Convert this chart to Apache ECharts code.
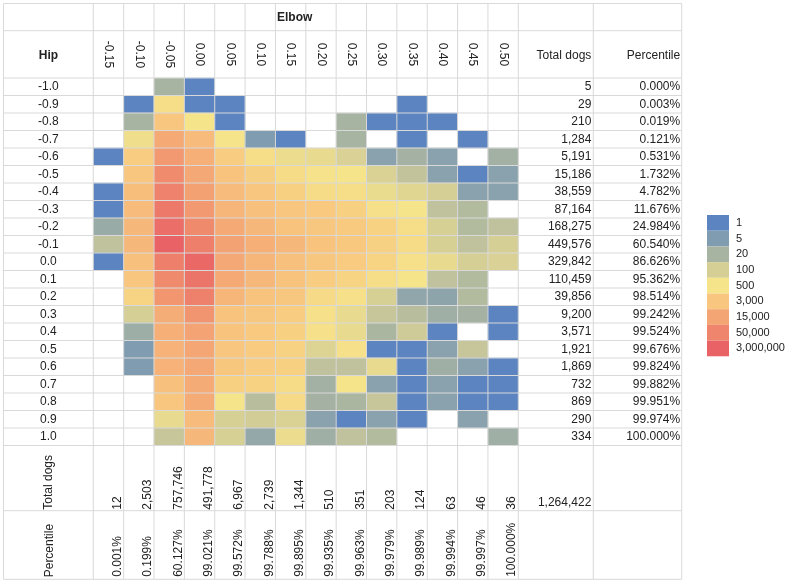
<!DOCTYPE html>
<html><head><meta charset="utf-8">
<script src="https://cdn.jsdelivr.net/npm/echarts@6/dist/echarts.min.js"></script>
<style>html,body{margin:0;padding:0;background:#fff}#c{width:789px;height:584px}</style>
</head><body><div id="c"></div>
<script>
// ---------- data ----------
const elbowLabels = ['-0.15','-0.10','-0.05','0.00','0.05','0.10','0.15','0.20','0.25','0.30','0.35','0.40','0.45','0.50'];
const hipLabels = ['-1.0','-0.9','-0.8','-0.7','-0.6','-0.5','-0.4','-0.3','-0.2','-0.1','0.0','0.1','0.2','0.3','0.4','0.5','0.6','0.7','0.8','0.9','1.0'];
const rowTotals = [5,29,210,1284,5191,15186,38559,87164,168275,449576,329842,110459,39856,9200,3571,1921,1869,732,869,290,334];
const rowPercentiles = ['0.000%','0.003%','0.019%','0.121%','0.531%','1.732%','4.782%','11.676%','24.984%','60.540%','86.626%','95.362%','98.514%','99.242%','99.524%','99.676%','99.824%','99.882%','99.951%','99.974%','100.000%'];
const colTotals = [12,2503,757746,491778,6967,2739,1344,510,351,203,124,63,46,36];
const colPercentiles = ['0.001%','0.199%','60.127%','99.021%','99.572%','99.788%','99.895%','99.935%','99.963%','99.979%','99.989%','99.994%','99.997%','100.000%'];
const grandTotal = 1264422;
const legendLabels = ['1','5','20','100','500','3,000','15,000','50,000','3,000,000'];
const legendThresholds = [1,5,20,100,500,3000,15000,50000,3000000];
const legendColors = ['#5B84C1','#7F9CB0','#A8B4A2','#D5CF96','#F6E48B','#F8C67E','#F4A574','#EF856C','#E96366'];
// estimated counts per cell (rows = hip, cols = elbow), null = empty
const cellCounts = [
 [null,null,20,1,null,null,null,null,null,null,null,null,null,null],
 [null,1,700,1,1,null,null,null,null,null,1,null,null,null],
 [null,20,3000,500,1,null,null,null,20,1,1,1,null,null],
 [null,350,12000,5000,500,5,1,null,20,null,1,null,1,null],
 [1,2000,24000,9000,2000,700,300,250,120,7,18,7,null,17],
 [null,3000,40000,13000,3500,1800,800,550,500,130,50,7,1,7],
 [1,4500,70000,18000,5000,3000,1700,800,700,280,170,100,7,7],
 [1,5000,200000,24000,7000,3800,3000,2500,1700,600,500,45,30,null],
 [12,6000,800000,42000,12000,6000,3500,2800,2400,1500,700,110,30,45],
 [45,6000,3000000,90000,17000,9000,6000,3500,2700,1600,800,110,45,100],
 [1,4000,90000,1500000,13000,7000,4000,2800,2200,1400,600,250,100,120],
 [null,3000,42000,350000,12000,6000,3300,2000,1300,700,500,45,30,null],
 [null,1400,26000,80000,7000,3500,2800,900,600,110,9,8,30,null],
 [null,100,10000,28000,3500,2800,2000,600,250,60,35,15,18,1],
 [null,14,9000,16000,3300,2500,1700,600,250,22,80,1,null,1],
 [null,5,8000,14000,3000,2200,1500,150,600,1,1,7,60,null],
 [null,5,8000,13000,2900,2000,1700,45,45,250,1,15,7,1],
 [null,null,3800,11000,1700,1500,800,17,500,7,1,7,1,1],
 [null,null,3000,11000,500,35,900,18,22,60,1,7,1,1],
 [null,null,250,5000,110,90,130,7,1,7,1,null,7,null],
 [null,null,60,6000,110,10,300,15,45,30,null,null,null,15]
];

// ---------- layout ----------
const FONT = "'Liberation Sans', Arial, sans-serif";
const TXT = '#222';
const LINE = '#d9d9d9';
const X0 = 3.5, HIPR = 93.3, GW = 425, TOTW = 75, PCTW = 88.4;
const Y0 = 3.5, ELB = 30.7, GT = 78, RH = 17.5, TOTB = 510.7, BOT = 579.3;
const NC = elbowLabels.length, NR = hipLabels.length;
const GR = HIPR + GW, GB = GT + RH * NR;

function scalePos(v) {
  const t = legendThresholds;
  if (v <= t[0]) return 0;
  for (let i = 0; i < t.length - 1; i++) {
    if (v <= t[i + 1]) return i + Math.log(v / t[i]) / Math.log(t[i + 1] / t[i]);
  }
  return t.length - 1;
}
const heatData = [];
cellCounts.forEach((row, yi) => row.forEach((v, xi) => { if (v != null) heatData.push([xi, yi, scalePos(v)]); }));

const fmt = n => n.toLocaleString('en-US');

// table rules
const graphics = [];
const xs = [X0, HIPR];
for (let k = 1; k <= NC; k++) xs.push(HIPR + k * GW / NC);
xs.push(GR + TOTW, GR + TOTW + PCTW);
const ys = [Y0, ELB];
for (let k = 0; k <= NR; k++) ys.push(GT + k * RH);
ys.push(TOTB, BOT);
const XR = xs[xs.length - 1];
xs.forEach(x => graphics.push({type:'line', z:100, shape:{x1:x, y1:Y0, x2:x, y2:BOT}, style:{stroke:LINE, lineWidth:1}}));
ys.forEach(y => graphics.push({type:'line', z:100, shape:{x1:X0, y1:y, x2:XR, y2:y}, style:{stroke:LINE, lineWidth:1}}));

function txt(text, x, y, opts) {
  opts = opts || {};
  return {type:'text', z:101, x:x, y:y, rotation: opts.rot || 0,
    style:{text:text, fill:TXT, font:(opts.bold ? 'bold ' : '') + '12px ' + FONT,
      align:opts.align || 'center', verticalAlign:'middle', textAlign:opts.align || 'center', textVerticalAlign:'middle'}};
}
graphics.push(txt('Elbow', 277, 18, {bold:true, align:'left'}));
graphics.push(txt('Hip', (X0 + HIPR) / 2, 55.5, {bold:true}));
graphics.push(txt('Total dogs', GR + TOTW - 2, 55.5, {align:'right'}));
graphics.push(txt('Percentile', XR - 1.5, 55.5, {align:'right'}));
graphics.push(txt('Total dogs', (X0 + HIPR) / 2, TOTB - 1, {align:'left', rot:Math.PI / 2}));
graphics.push(txt('Percentile', (X0 + HIPR) / 2 + 1, BOT - 2, {align:'left', rot:Math.PI / 2}));
graphics.push(txt(fmt(grandTotal), GR + TOTW - 2, TOTB - 8, {align:'right'}));

const noAxis = {axisLine:{show:false}, axisTick:{show:false}, splitLine:{show:false}};
const lab = extra => Object.assign({fontSize:12, color:TXT, fontFamily:FONT, interval:0}, extra);

const option = {
  animation: false,
  backgroundColor: '#fff',
  grid: {left: HIPR, top: GT, width: GW, height: RH * NR, containLabel: false, outerBoundsMode: 'none'},
  xAxis: [
    Object.assign({type:'category', data: elbowLabels, position:'top',
      axisLabel: lab({rotate:90, margin: GT - 54.5, align:'center', verticalAlign:'middle'})}, noAxis),
    Object.assign({type:'category', data: colTotals.map(fmt), position:'bottom',
      axisLabel: lab({rotate:90, margin: TOTB - GB - 1, align:'left', verticalAlign:'top', padding:[3,0,0,0]})}, noAxis),
    Object.assign({type:'category', data: colPercentiles, position:'bottom',
      axisLabel: lab({rotate:90, margin: BOT - GB - 2.5, align:'left', verticalAlign:'top', padding:[3,0,0,0]})}, noAxis)
  ],
  yAxis: [
    Object.assign({type:'category', data: hipLabels, inverse:true, position:'left',
      axisLabel: lab({margin: HIPR - (X0 + HIPR) / 2, align:'center', verticalAlign:'middle', padding:[4,0,0,0]})}, noAxis),
    Object.assign({type:'category', data: rowTotals.map(fmt), inverse:true, position:'right',
      axisLabel: lab({margin: TOTW - 2, align:'right', verticalAlign:'middle', padding:[4,0,0,0]})}, noAxis),
    Object.assign({type:'category', data: rowPercentiles, inverse:true, position:'right',
      axisLabel: lab({margin: TOTW + PCTW - 1.5, align:'right', verticalAlign:'middle', padding:[4,0,0,0]})}, noAxis)
  ],
  visualMap: [
    {type:'continuous', show:false, seriesIndex:0, dimension:2, min:0, max:legendThresholds.length - 1,
      inRange:{color: legendColors}},
    {type:'piecewise', show:true, seriesIndex:1, left:707, top:215, padding:0, orient:'vertical', inverse:true,
      align:'left', itemWidth:22, itemHeight:15.7, itemGap:0, textGap:7, itemSymbol:'rect', hoverLink:false, selectedMode:false,
      textStyle:{fontSize:11, color:TXT, fontFamily:FONT},
      pieces: legendLabels.map((l, i) => ({value:i, label:l, color:legendColors[i]}))}
  ],
  series: [
    {type:'heatmap', xAxisIndex:0, yAxisIndex:0, data: heatData, emphasis:{disabled:true}, itemStyle:{borderWidth:0}},
    {type:'scatter', xAxisIndex:0, yAxisIndex:0, data: [], silent:true}
  ],
  graphic: graphics
};
const chart = echarts.init(document.getElementById('c'), null, {renderer:'canvas'});
chart.setOption(option);
</script></body></html>
